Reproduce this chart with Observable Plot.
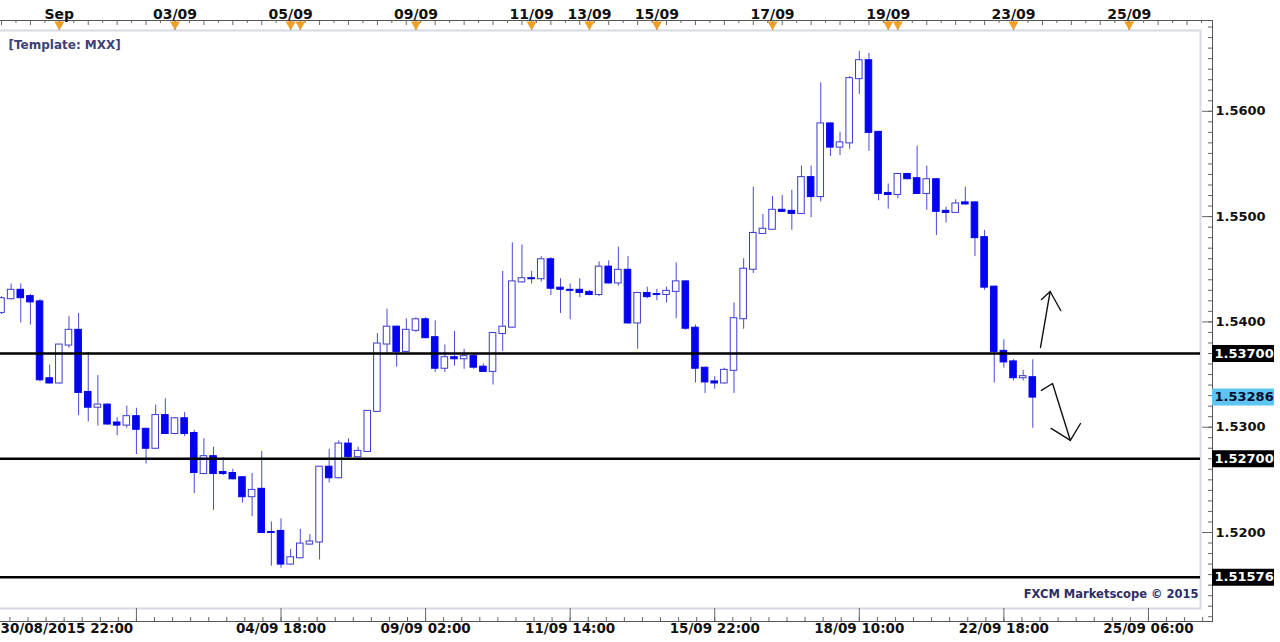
<!DOCTYPE html>
<html><head><meta charset="utf-8">
<script src="https://cdn.jsdelivr.net/npm/d3@7"></script>
<script src="https://cdn.jsdelivr.net/npm/@observablehq/plot@0.6"></script>
<style>
html,body{margin:0;padding:0;background:#fff;}
#chart{width:1280px;height:642px;overflow:hidden;}
</style></head><body><div id="chart"></div>
<script>
// 4-hour candles (index 0 = 30/08/2015 22:00)
const opens = [1.5409,1.5422,1.5430,1.5424,1.5419,1.5346,1.5342,1.5378,1.5392,1.5333,1.5319,1.5321,1.5304,1.5302,1.5310,1.5298,1.5280,1.5311,1.5294,1.5308,
1.5294,1.5256,1.5272,1.5257,1.5256,1.5252,1.5234,1.5241,1.5200,1.5201,1.5170,1.5176,1.5189,1.5191,1.5262,1.5252,1.5284,1.5272,1.5277,1.5315,
1.5379,1.5395,1.5372,1.5392,1.5402,1.5385,1.5356,1.5366,1.5365,1.5367,1.5357,1.5353,1.5389,1.5395,1.5438,1.5441,1.5441,1.5459,1.5432,1.5430,
1.5430,1.5428,1.5426,1.5452,1.5437,1.5449,1.5399,1.5427,1.5426,1.5426,1.5429,1.5438,1.5394,1.5356,1.5343,1.5342,1.5354,1.5403,1.5450,1.5484,
1.5488,1.5506,1.5505,1.5503,1.5537,1.5519,1.5588,1.5566,1.5570,1.5631,1.5648,1.5580,1.5522,1.5521,1.5540,1.5536,1.5522,1.5535,1.5505,1.5504,
1.5513,1.5513,1.5480,1.5433,1.5372,1.5362,1.5347,1.5347];
const highs = [1.5424,1.5436,1.5436,1.5426,1.5421,1.5359,1.5378,1.5405,1.5408,1.5371,1.5349,1.5322,1.5309,1.5320,1.5318,1.5299,1.5321,1.5327,1.5309,1.5314,
1.5297,1.5289,1.5281,1.5271,1.5260,1.5253,1.5256,1.5277,1.5210,1.5213,1.5184,1.5203,1.5198,1.5262,1.5279,1.5287,1.5289,1.5281,1.5315,1.5389,
1.5412,1.5396,1.5403,1.5404,1.5404,1.5401,1.5378,1.5391,1.5374,1.5369,1.5360,1.5389,1.5448,1.5475,1.5473,1.5448,1.5462,1.5461,1.5441,1.5436,
1.5441,1.5430,1.5457,1.5458,1.5471,1.5462,1.5427,1.5433,1.5431,1.5433,1.5456,1.5439,1.5397,1.5357,1.5348,1.5356,1.5418,1.5460,1.5528,1.5502,
1.5519,1.5520,1.5525,1.5548,1.5548,1.5627,1.5589,1.5580,1.5633,1.5657,1.5655,1.5581,1.5531,1.5541,1.5541,1.5567,1.5548,1.5536,1.5509,1.5516,
1.5528,1.5514,1.5487,1.5434,1.5383,1.5364,1.5354,1.5364];
const lows = [1.5407,1.5421,1.5399,1.5397,1.5343,1.5341,1.5341,1.5375,1.5311,1.5305,1.5301,1.5302,1.5292,1.5299,1.5274,1.5265,1.5279,1.5293,1.5293,1.5291,
1.5237,1.5255,1.5221,1.5254,1.5250,1.5228,1.5215,1.5199,1.5168,1.5166,1.5169,1.5175,1.5188,1.5174,1.5247,1.5251,1.5269,1.5271,1.5276,1.5314,
1.5370,1.5357,1.5371,1.5390,1.5384,1.5352,1.5352,1.5358,1.5355,1.5355,1.5352,1.5340,1.5372,1.5394,1.5437,1.5436,1.5438,1.5425,1.5408,1.5402,
1.5423,1.5425,1.5424,1.5436,1.5434,1.5398,1.5374,1.5422,1.5420,1.5418,1.5403,1.5392,1.5342,1.5332,1.5336,1.5341,1.5332,1.5393,1.5446,1.5483,
1.5487,1.5504,1.5487,1.5502,1.5499,1.5514,1.5557,1.5558,1.5564,1.5616,1.5562,1.5515,1.5507,1.5517,1.5535,1.5521,1.5506,1.5482,1.5494,1.5503,
1.5511,1.5462,1.5430,1.5342,1.5356,1.5344,1.5344,1.5299];
const closes = [1.5422,1.5430,1.5423,1.5419,1.5345,1.5342,1.5378,1.5392,1.5333,1.5319,1.5321,1.5303,1.5302,1.5310,1.5298,1.5280,1.5311,1.5294,1.5308,1.5294,
1.5257,1.5272,1.5256,1.5256,1.5251,1.5234,1.5240,1.5200,1.5200,1.5170,1.5176,1.5189,1.5191,1.5262,1.5252,1.5284,1.5272,1.5277,1.5315,1.5379,
1.5395,1.5372,1.5392,1.5402,1.5385,1.5356,1.5366,1.5365,1.5367,1.5357,1.5353,1.5389,1.5395,1.5438,1.5441,1.5441,1.5459,1.5432,1.5431,1.5430,
1.5428,1.5426,1.5452,1.5437,1.5449,1.5399,1.5427,1.5424,1.5426,1.5429,1.5438,1.5394,1.5356,1.5343,1.5342,1.5354,1.5403,1.5450,1.5484,1.5488,
1.5506,1.5505,1.5503,1.5537,1.5519,1.5588,1.5566,1.5570,1.5631,1.5648,1.5580,1.5522,1.5521,1.5540,1.5536,1.5522,1.5535,1.5505,1.5504,1.5512,
1.5512,1.5480,1.5433,1.5372,1.5362,1.5347,1.5348,1.53286];

// horizontal support / resistance levels and last price
const levels = [1.537, 1.527, 1.51576];
const lastPrice = 1.53286;

// price axis labels
const yTickValues = [1.52, 1.53, 1.54, 1.55, 1.56];

// top date axis (candle index of each day marker)
const topLabels = ["Sep","03/09","05/09","09/09","11/09","13/09","15/09","17/09","19/09","23/09","25/09"];
const topLabelIdx = [6, 18, 30, 43, 55, 61, 68, 80, 92, 105, 117];
const markerIdx = [6, 18, 30, 31, 43, 55, 61, 68, 80, 92, 93, 105, 117];

// bottom time axis
const bottomLabels = ["04/09 18:00","09/09 02:00","11/09 14:00","15/09 22:00","18/09 10:00","22/09 18:00","25/09 06:00"];
const bottomLabelIdx = [29, 44, 59, 74, 89, 104, 119];
const firstLabel = "30/08/2015 22:00";

// hand-drawn arrows (candle index, price)
const arrowI = [107.8,108.8, 107.9,108.8,109.9, 107.9,109.05,110.9, 108.9,110.9,111.95];
const arrowP = [1.53757,1.54289, 1.54213,1.54289,1.54108, 1.53349,1.53415,1.52874, 1.52988,1.52874,1.53035];
const arrowG = [0,0, 1,1,1, 2,2,2, 3,3,3];

const candles = opens.map((o, i) => ({i, open: o, high: highs[i], low: lows[i], close: closes[i], up: closes[i] > o}));
const arrows = arrowI.map((x, k) => ({i: x, p: arrowP[k], g: arrowG[k]}));

const BEAR = "#0404f0", BULL = "#3a3ad2", WICK = "#4a4ad4";
const FONT = "'DejaVu Sans', Verdana, sans-serif";
const W = 1280, H = 642, MT = 20, MB = 21, MR = 68, ML = -1;
const FW = W - MR - ML, FH = H - MT - MB;

const topTicks = d3.range(0, 125.9, 1.5);
const botTicks = d3.range(14 - 1.875 * 7, 125, 1.875);
const botMajor = d3.range(14, 125, 15);
const yMinor = d3.range(1512, 1569).map(d => d / 1000);

const chart = Plot.plot({
  width: W, height: H,
  marginLeft: ML, marginRight: MR, marginTop: MT, marginBottom: MB,
  style: {fontFamily: FONT, background: "#fff", overflow: "visible"},
  x: {type: "linear", domain: [0, 124.4], range: [1, 1200], axis: null},
  y: {type: "linear", domain: [1.52, 1.56], range: [532, 110.8], axis: null},
  marks: [
    // inner light frame
    Plot.frame({stroke: "#d6dae2", strokeWidth: 2, insetTop: 10, insetRight: 12, insetBottom: 13, insetLeft: -4}),
    // outer axis frame
    Plot.frame({stroke: "#555", strokeWidth: 1}),
    // top ticks
    Plot.ruleX(topTicks.filter((d, k) => k % 2 === 0), {x: d => d, insetBottom: FH - 5, stroke: "#666"}),
    Plot.ruleX(topTicks.filter((d, k) => k % 2 === 1), {x: d => d, insetBottom: FH - 3, stroke: "#666"}),
    Plot.ruleX(markerIdx, {x: d => d, insetBottom: FH - 10, stroke: "#666"}),
    Plot.dot(markerIdx, {x: d => d, frameAnchor: "top", dy: 4, symbol: "triangle", r: 3.4, rotate: 180, fill: "#f2a024", stroke: "#e8951c", strokeWidth: 0.5}),
    Plot.text(topLabels, {x: (d, k) => topLabelIdx[k], text: d => d, frameAnchor: "top", dy: -11, fontWeight: "bold", fontSize: 14, fill: "#111"}),
    // bottom ticks
    Plot.ruleX(botTicks, {x: d => d, insetTop: FH - 4, stroke: "#666"}),
    Plot.ruleX(botMajor, {x: d => d, insetTop: FH - 13, stroke: "#666"}),
    Plot.text(bottomLabels, {x: (d, k) => bottomLabelIdx[k], text: d => d, frameAnchor: "bottom", dy: 11, fontWeight: "bold", fontSize: 13.5, fill: "#111"}),
    Plot.text([firstLabel], {x: 0, text: d => d, frameAnchor: "bottom", dy: 11, dx: -1, textAnchor: "start", fontWeight: "bold", fontSize: 13.5, fill: "#111"}),
    // right axis ticks and labels
    Plot.ruleY(yMinor, {y: d => d, insetLeft: FW - 4, stroke: "#666"}),
    Plot.ruleY(yTickValues, {y: d => d, insetLeft: FW - 10, stroke: "#666"}),
    Plot.text(yTickValues, {y: d => d, text: d => d.toFixed(4), frameAnchor: "right", textAnchor: "start", dx: 3, fontWeight: "bold", fontSize: 13, fill: "#111"}),
    // candle wicks and bodies
    Plot.ruleX(candles, {x: "i", y1: "low", y2: "high", stroke: WICK, strokeWidth: 1}),
    Plot.rect(candles.filter(d => !d.up), {x1: d => d.i - 0.34, x2: d => d.i + 0.34, y1: "open", y2: "close", fill: BEAR, stroke: BEAR, insetTop: -0.5, insetBottom: -0.5}),
    Plot.rect(candles.filter(d => d.up), {x1: d => d.i - 0.34, x2: d => d.i + 0.34, y1: "open", y2: "close", fill: "white", stroke: BULL, insetTop: -0.5, insetBottom: -0.5}),
    // levels
    Plot.ruleY(levels, {y: d => d, x1: -0.3, x2: 124.4, stroke: "#000", strokeWidth: 2.5}),
    Plot.ruleY(levels, {y: d => d, insetLeft: FW, insetRight: -62, stroke: "#000", strokeWidth: 17}),
    Plot.text(levels, {y: d => d, text: d => d.toFixed(5), frameAnchor: "right", textAnchor: "start", dx: 2, fill: "#fff", fontWeight: "bold", fontSize: 13}),
    Plot.ruleY([lastPrice], {y: d => d, insetLeft: FW, insetRight: -62, stroke: "#5cc5f2", strokeWidth: 17}),
    Plot.text([lastPrice], {y: d => d, text: d => d.toFixed(5), frameAnchor: "right", textAnchor: "start", dx: 2, fill: "#0c0c30", fontWeight: "bold", fontSize: 13}),
    // arrows
    Plot.line(arrows, {x: "i", y: "p", z: "g", stroke: "#111", strokeWidth: 1.4, curve: "linear"}),
    // texts
    Plot.text(["[Template: MXX]"], {text: d => d, frameAnchor: "top-left", dx: 9, dy: 20, textAnchor: "start", fontWeight: "bold", fontSize: 12, fill: "#3e3e78"}),
    Plot.text(["FXCM Marketscope \u00a9 2015"], {text: d => d, frameAnchor: "bottom-right", dx: -14, dy: -24, textAnchor: "end", fontWeight: "bold", fontSize: 11.5, fill: "#2e2e66"})
  ]
});
document.getElementById("chart").appendChild(chart);
</script></body></html>
